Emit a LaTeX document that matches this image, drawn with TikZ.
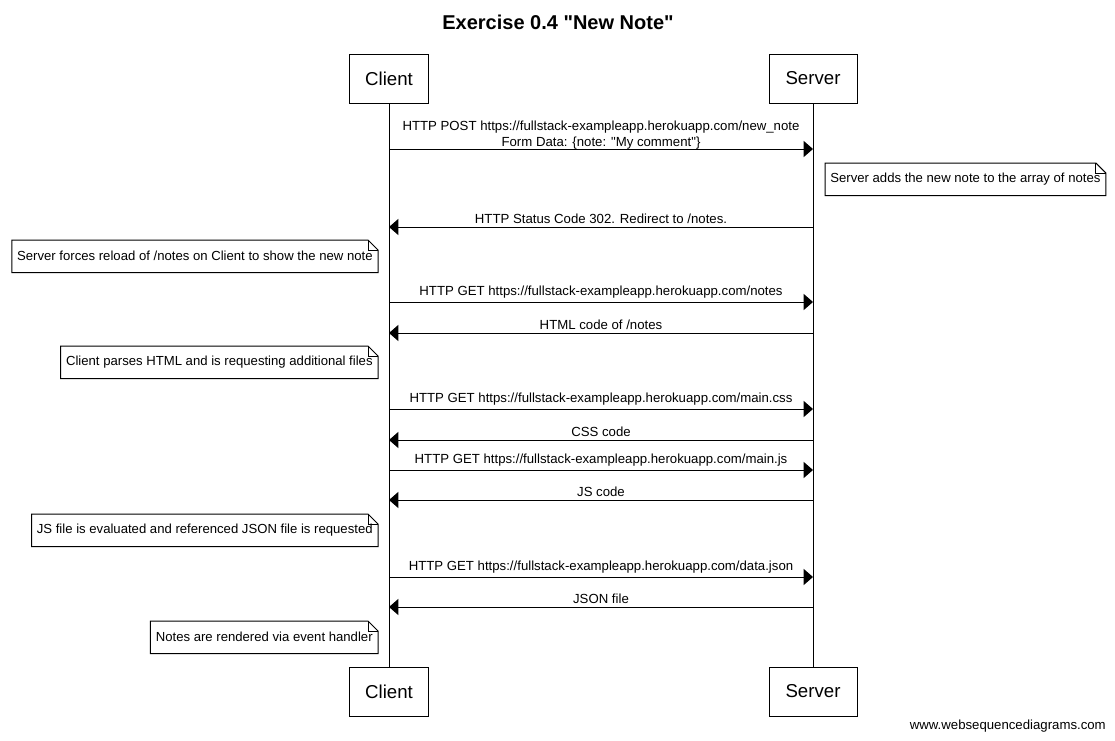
\documentclass[tikz,border=0pt]{standalone}
\usepackage{fontspec}
\setmainfont{Liberation Sans}
\usetikzlibrary{arrows.meta}

\tikzset{
    actor/.style={draw, line width=0.75pt, minimum height=36.75pt, inner sep=0pt, font={\fontsize{14}{16}\selectfont}},
    msg/.style={line width=0.75pt, -{Triangle[length=7pt, width=12pt]}},
    msglabel/.style={above, inner sep=2.5pt, font={\fontsize{9.9}{12}\selectfont}, align=center},
    notebox/.style={minimum height=24pt, inner xsep=3.8pt, inner ysep=0pt, font={\fontsize{9.85}{12}\selectfont}}
}
\newcommand\foldnote[1]{%
    \draw[line width=0.75pt] (#1.south west) -- (#1.south east) -- ([yshift=-7.5pt]#1.north east)
        -- ([xshift=-7.5pt]#1.north east) -- (#1.north west) -- cycle;
    \draw[line width=0.75pt] ([xshift=-7.5pt]#1.north east) |- ([yshift=-7.5pt]#1.north east);
}

\begin{document}
\begin{tikzpicture}[x=0.75pt, y=-0.75pt]
        \useasboundingbox (0,0) rectangle (1115,740);
        \node[font = {\bfseries\fontsize{15}{18}\selectfont}] (title) at (558, 22) {Exercise 0.4 \textquotedbl New Note\textquotedbl};

        % actors
        \node[actor, minimum width=59.25pt] (clientTop) at (389, 78.5) {Client};
        \node[actor, minimum width=66pt] (serverTop) at (813, 78.5) {Server};
        \node[actor, minimum width=59.25pt] (clientBot) at (389, 691.5) {Client};
        \node[actor, minimum width=66pt] (serverBot) at (813, 691.5) {Server};
        \draw[line width=0.75pt] (clientTop) -- (clientBot);
        \draw[line width=0.75pt] (serverTop) -- (serverBot);

        % messages
        \coordinate (cPost) at (389, 149);  \coordinate (sPost) at (813, 149);
        \draw[msg] (cPost) -- node[msglabel, yshift=-3pt] {HTTP POST https://fullstack-exampleapp.herokuapp.com/new\_note\\Form Data: \{note: \textquotedbl My comment\textquotedbl\}} (sPost);

        \node[notebox, anchor=north west] (noteAdd) at (825, 163) {Server adds the new note to the array of notes};
        \foldnote{noteAdd}

        \coordinate (cRedir) at (389, 227);  \coordinate (sRedir) at (813, 227);
        \draw[msg] (sRedir) -- node[msglabel] {HTTP Status Code 302. Redirect to /notes.} (cRedir);

        \node[notebox, anchor=north east] (noteReload) at (378, 240) {Server forces reload of /notes on Client to show the new note};
        \foldnote{noteReload}

        \coordinate (cNotes) at (389, 302);  \coordinate (sNotes) at (813, 302);
        \draw[msg] (cNotes) -- node[msglabel] {HTTP GET https://fullstack-exampleapp.herokuapp.com/notes} (sNotes);

        \coordinate (cHtml) at (389, 333);  \coordinate (sHtml) at (813, 333);
        \draw[msg] (sHtml) -- node[msglabel] {HTML code of /notes} (cHtml);

        \node[notebox, anchor=north east] (noteParse) at (378, 346) {Client parses HTML and is requesting additional files};
        \foldnote{noteParse}

        \coordinate (cCssGet) at (389, 409);  \coordinate (sCssGet) at (813, 409);
        \draw[msg] (cCssGet) -- node[msglabel] {HTTP GET https://fullstack-exampleapp.herokuapp.com/main.css} (sCssGet);

        \coordinate (cCss) at (389, 440);  \coordinate (sCss) at (813, 440);
        \draw[msg] (sCss) -- node[msglabel] {CSS code} (cCss);

        \coordinate (cJsGet) at (389, 470);  \coordinate (sJsGet) at (813, 470);
        \draw[msg] (cJsGet) -- node[msglabel] {HTTP GET https://fullstack-exampleapp.herokuapp.com/main.js} (sJsGet);

        \coordinate (cJs) at (389, 500);  \coordinate (sJs) at (813, 500);
        \draw[msg] (sJs) -- node[msglabel] {JS code} (cJs);

        \node[notebox, anchor=north east] (noteEval) at (378, 514) {JS file is evaluated and referenced JSON file is requested};
        \foldnote{noteEval}

        \coordinate (cJsonGet) at (389, 577);  \coordinate (sJsonGet) at (813, 577);
        \draw[msg] (cJsonGet) -- node[msglabel] {HTTP GET https://fullstack-exampleapp.herokuapp.com/data.json} (sJsonGet);

        \coordinate (cJson) at (389, 607);  \coordinate (sJson) at (813, 607);
        \draw[msg] (sJson) -- node[msglabel] {JSON file} (cJson);

        \node[notebox, anchor=north east] (noteRender) at (378, 621) {Notes are rendered via event handler};
        \foldnote{noteRender}

        \node[anchor=east, inner sep=0pt, font = {\fontsize{9.9}{12}\selectfont}] (credit) at (1106, 726) {www.websequencediagrams.com};
    \end{tikzpicture}
\end{document}
